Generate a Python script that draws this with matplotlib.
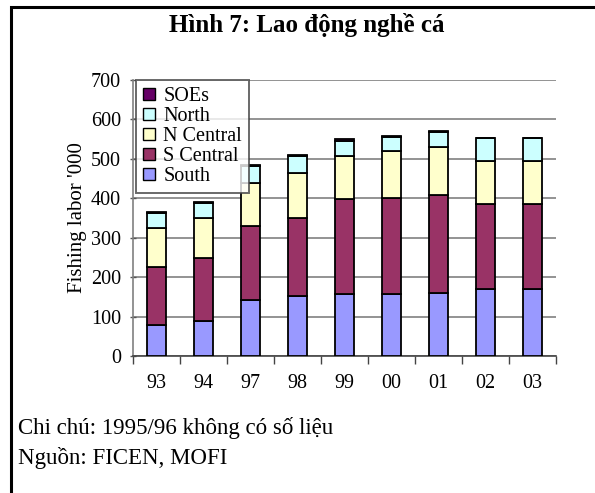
import numpy as np
import matplotlib
matplotlib.use("Agg")
from matplotlib import pyplot as plt
from matplotlib.patches import Rectangle, Patch

plt.rcParams['font.family'] = ['Liberation Serif', 'DejaVu Serif']

# data ('000 people)
years = ["93", "94", "97", "98", "99", "00", "01", "02", "03"]
south = [79, 90, 141, 153, 157, 157, 161, 169, 169]
s_central = [146, 158, 189, 196, 240, 243, 247, 216, 216]
n_central = [100, 101, 110, 114, 110, 120, 121, 110, 110]
north = [38, 38, 42, 45, 39, 36, 40, 59, 59]
soes = [3, 3, 2, 3, 4, 3, 1, 0, 0]

series = [("South", south, "#9999FF"),
          ("S Central", s_central, "#993366"),
          ("N Central", n_central, "#FFFFCC"),
          ("North", north, "#CCFFFF"),
          ("SOEs", soes, "#660066")]

W, H = 595, 493
fig = plt.figure(figsize=(W/100, H/100), dpi=100)

# frame around the whole thing
fig.patches.append(Rectangle((11/W, -0.05), 1.0, (H-7)/H + 0.05, transform=fig.transFigure,
                             fill=False, edgecolor="black", linewidth=2.2))

ax = fig.add_axes([133/W, 1-356/H, (556-133)/W, (356-80)/H])

x = np.arange(len(years))
bottom = np.zeros(len(years))
for name, vals, col in series:
    ax.bar(x, vals, width=0.42, bottom=bottom, color=col, edgecolor="black",
           linewidth=1.3, zorder=3)
    bottom += np.array(vals)

ax.set_xlim(-0.5, len(years)-0.5)
ax.set_ylim(0, 700)
ax.set_yticks(range(0, 701, 100))
ax.yaxis.grid(True, color="#808080", linewidth=1.2, zorder=0)
ax.set_axisbelow(True)

ax.set_xticks(x)
ax.set_xticklabels(years, fontsize=14.5)
ax.set_xticks(np.arange(-0.5, len(years)), minor=True)
ax.tick_params(axis="x", which="major", length=0, pad=13)
ax.tick_params(axis="x", which="minor", length=6, width=1, color="#444444")
ax.tick_params(axis="y", labelsize=14.5, length=5, width=1, color="#555555",
               direction="inout", pad=6)

for s in ["top", "right"]:
    ax.spines[s].set_visible(False)
ax.spines["left"].set_color("#808080")
ax.spines["left"].set_linewidth(1.2)
ax.spines["bottom"].set_color("#444444")
ax.spines["bottom"].set_linewidth(1.2)

ax.set_ylabel("Fishing labor '000", fontsize=15, labelpad=3)

handles = [Patch(facecolor=col, edgecolor="black", label=name)
           for name, vals, col in reversed(series)]
leg = ax.legend(handles=handles, loc="upper left", bbox_to_anchor=(0.007, 1.0),
                fontsize=14.5, frameon=True, fancybox=False, shadow=False,
                handlelength=0.6, handleheight=0.6, handletextpad=0.4,
                borderpad=0.35, labelspacing=0.05, borderaxespad=0)
leg.get_frame().set_edgecolor("#444444")
leg.get_frame().set_linewidth(1.4)
leg.set_zorder(5)

fig.text(307/W, 1-25/H, "Hình 7: Lao động nghề cá", ha="center", va="center",
         fontsize=18, fontweight="bold")
fig.text(18/W, 1-428/H, "Chi chú: 1995/96 không có số liệu", ha="left", va="center",
         fontsize=16.5)
fig.text(18/W, 1-458/H, "Nguồn: FICEN, MOFI", ha="left", va="center", fontsize=16.5)

fig.savefig("out.png", dpi=100)
